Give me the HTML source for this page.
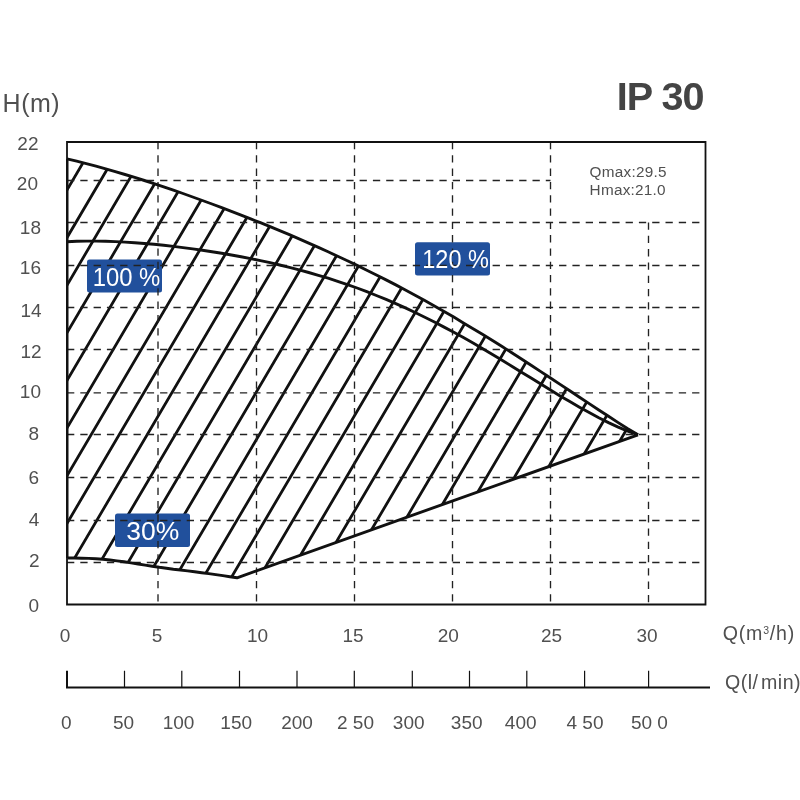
<!DOCTYPE html>
<html lang="en">
<head>
<meta charset="utf-8">
<title>IP 30</title>
<style>
html,body{margin:0;padding:0;background:#fff;}
body{width:800px;height:800px;overflow:hidden;font-family:"Liberation Sans",sans-serif;}
svg{display:block;will-change:transform}
svg text{font-family:"Liberation Sans",sans-serif;fill:#505050;font-size:19px}
.badge text{fill:#fff;font-size:25px}
</style>
</head>
<body>
<svg width="800" height="800" viewBox="0 0 800 800">
<defs><clipPath id="reg"><path d="M67.0,158.9 L76.7,161.2 L86.3,163.6 L96.0,166.1 L105.7,168.8 L115.3,171.6 L125.0,174.5 L134.7,177.4 L144.4,180.5 L154.0,183.7 L163.7,186.9 L173.4,190.2 L183.0,193.5 L192.7,197.0 L202.4,200.5 L212.0,204.0 L221.7,207.6 L231.4,211.3 L241.1,215.1 L250.7,218.9 L260.4,222.7 L270.1,226.7 L279.7,230.7 L289.4,234.7 L299.1,238.9 L308.7,243.1 L318.4,247.4 L328.1,251.8 L337.7,256.3 L347.4,260.8 L357.1,265.4 L366.8,270.2 L376.4,275.0 L386.1,279.9 L395.8,284.9 L405.4,290.0 L415.1,295.3 L424.8,300.6 L434.4,306.0 L444.1,311.5 L453.8,317.1 L463.4,322.9 L473.1,328.7 L482.8,334.6 L492.5,340.6 L502.1,346.6 L511.8,352.8 L521.5,359.0 L531.1,365.3 L540.8,371.6 L550.5,378.0 L560.1,384.4 L569.8,390.8 L579.5,397.2 L589.2,403.6 L598.8,410.0 L608.5,416.3 L618.2,422.6 L627.8,428.7 L638.0,434.8 L237.0,577.8 L229.9,576.7 L222.9,575.6 L215.8,574.6 L208.8,573.6 L201.7,572.7 L194.6,571.8 L187.6,570.9 L180.5,570.0 L173.4,569.2 L166.4,568.2 L159.3,567.3 L152.2,566.2 L145.2,565.1 L138.1,564.0 L131.1,562.9 L124.0,561.8 L116.9,560.9 L109.9,560.0 L102.8,559.3 L95.8,558.8 L88.7,558.4 L81.6,558.2 L74.6,558.0 L67.5,558.0 Z"/></clipPath></defs>
<rect width="800" height="800" fill="#fff"/>
<!-- hatch -->
<g clip-path="url(#reg)"><path d="M-326.1,620 L-37.8,130 M-298.0,620 L-9.8,130 M-270.0,620 L18.2,130 M-242.0,620 L46.2,130 M-214.0,620 L74.3,130 M-186.0,620 L102.3,130 M-157.9,620 L130.3,130 M-129.9,620 L158.3,130 M-101.9,620 L186.3,130 M-73.9,620 L214.4,130 M-45.9,620 L242.4,130 M-17.8,620 L270.4,130 M10.2,620 L298.4,130 M38.2,620 L326.4,130 M66.2,620 L354.5,130 M94.2,620 L382.5,130 M122.3,620 L410.5,130 M150.3,620 L438.5,130 M178.3,620 L466.5,130 M206.3,620 L494.6,130 M234.3,620 L522.6,130 M262.4,620 L550.6,130 M290.4,620 L578.6,130 M318.4,620 L606.6,130 M346.4,620 L634.7,130 M374.4,620 L662.7,130 M402.5,620 L690.7,130 M430.5,620 L718.7,130 M458.5,620 L746.7,130 M486.5,620 L774.8,130 M514.5,620 L802.8,130 M542.6,620 L830.8,130 M570.6,620 L858.8,130 M598.6,620 L886.8,130 M626.6,620 L914.9,130 M654.6,620 L942.9,130 M682.7,620 L970.9,130" stroke="#111" stroke-width="2.8" fill="none"/></g>
<!-- badges -->
<g class="badge">
<rect x="87" y="259.5" width="75" height="33" rx="2.5" fill="#21509c"/>
<rect x="415" y="242.3" width="75" height="33.3" rx="2.5" fill="#21509c"/>
<rect x="115" y="513.5" width="75" height="33.4" rx="2.5" fill="#21509c"/>
</g>
<!-- grid -->
<path d="M158,142 V605 M256.5,142 V605 M354.5,142 V605 M452.5,142 V605 M550.5,142 V605 M648.5,222.5 V605 M67,180.5 H550.5 M67,222.5 H705.5 M67,265.5 H705.5 M67,307.5 H705.5 M67,349.5 H705.5 M67,392.8 H705.5 M67,434.5 H705.5 M67,477.5 H705.5 M67,520.5 H705.5 M67,562.5 H705.5" stroke="#222" stroke-width="1.35" stroke-dasharray="7.3 6" fill="none"/>
<!-- frame -->
<path d="M67,142 H705.5 V604.5 H67 Z" stroke="#111" stroke-width="1.8" fill="none"/>
<!-- curves -->
<g stroke="#111" stroke-width="2.9" fill="none" stroke-linejoin="round">
<path d="M67.0,158.9 L76.7,161.2 L86.3,163.6 L96.0,166.1 L105.7,168.8 L115.3,171.6 L125.0,174.5 L134.7,177.4 L144.4,180.5 L154.0,183.7 L163.7,186.9 L173.4,190.2 L183.0,193.5 L192.7,197.0 L202.4,200.5 L212.0,204.0 L221.7,207.6 L231.4,211.3 L241.1,215.1 L250.7,218.9 L260.4,222.7 L270.1,226.7 L279.7,230.7 L289.4,234.7 L299.1,238.9 L308.7,243.1 L318.4,247.4 L328.1,251.8 L337.7,256.3 L347.4,260.8 L357.1,265.4 L366.8,270.2 L376.4,275.0 L386.1,279.9 L395.8,284.9 L405.4,290.0 L415.1,295.3 L424.8,300.6 L434.4,306.0 L444.1,311.5 L453.8,317.1 L463.4,322.9 L473.1,328.7 L482.8,334.6 L492.5,340.6 L502.1,346.6 L511.8,352.8 L521.5,359.0 L531.1,365.3 L540.8,371.6 L550.5,378.0 L560.1,384.4 L569.8,390.8 L579.5,397.2 L589.2,403.6 L598.8,410.0 L608.5,416.3 L618.2,422.6 L627.8,428.7 L638.0,434.8"/>
<path d="M67.0,241.8 L76.7,241.3 L86.3,241.1 L96.0,241.1 L105.7,241.3 L115.3,241.6 L125.0,242.1 L134.7,242.7 L144.4,243.5 L154.0,244.3 L163.7,245.3 L173.4,246.4 L183.0,247.6 L192.7,248.9 L202.4,250.2 L212.0,251.7 L221.7,253.3 L231.4,255.0 L241.1,256.7 L250.7,258.6 L260.4,260.6 L270.1,262.7 L279.7,265.0 L289.4,267.3 L299.1,269.8 L308.7,272.5 L318.4,275.3 L328.1,278.2 L337.7,281.3 L347.4,284.6 L357.1,288.0 L366.8,291.7 L376.4,295.5 L386.1,299.4 L395.8,303.6 L405.4,307.9 L415.1,312.5 L424.8,317.2 L434.4,322.0 L444.1,327.1 L453.8,332.3 L463.4,337.6 L473.1,343.1 L482.8,348.8 L492.5,354.5 L502.1,360.3 L511.8,366.2 L521.5,372.2 L531.1,378.1 L540.8,384.1 L550.5,390.0 L560.1,395.9 L569.8,401.6 L579.5,407.2 L589.2,412.6 L598.8,417.8 L608.5,422.6 L618.2,427.1 L627.8,431.2 L638.0,434.8"/>
<path d="M67.5,558.0 L74.6,558.0 L81.6,558.2 L88.7,558.4 L95.8,558.8 L102.8,559.3 L109.9,560.0 L116.9,560.9 L124.0,561.8 L131.1,562.9 L138.1,564.0 L145.2,565.1 L152.2,566.2 L159.3,567.3 L166.4,568.2 L173.4,569.2 L180.5,570.0 L187.6,570.9 L194.6,571.8 L201.7,572.7 L208.8,573.6 L215.8,574.6 L222.9,575.6 L229.9,576.7 L237.0,577.8 L638,434.8"/>
<path d="M67.3,159 V558" stroke-width="2.4"/>
</g>
<!-- badge text -->
<g class="badge">
<text transform="translate(126.5,285.5) scale(0.955,1)" text-anchor="middle" style="white-space:pre">100 %</text>
<text transform="translate(455.6,268.2) scale(0.94,1)" text-anchor="middle" style="white-space:pre">120 %</text>
<text transform="translate(152.8,540.2) scale(1.06,1)" text-anchor="middle">30%</text>
</g>
<!-- title -->
<text x="660.2" y="109.8" text-anchor="middle" style="font-size:39.6px;font-weight:bold;fill:#444;letter-spacing:-1px">IP 30</text>
<text x="589.6" y="177.4" style="font-size:15.3px;letter-spacing:0.25px">Qmax:29.5</text>
<text x="589.6" y="195.4" style="font-size:15.3px;letter-spacing:0.25px">Hmax:21.0</text>
<text x="2.6" y="111.5" style="font-size:25px;letter-spacing:0.5px">H(m)</text>
<!-- axis labels -->
<text x="38.5" y="149.6" text-anchor="end">22</text>
<text x="38" y="190.4" text-anchor="end">20</text>
<text x="41" y="234" text-anchor="end">18</text>
<text x="41" y="274" text-anchor="end">16</text>
<text x="41.6" y="317" text-anchor="end">14</text>
<text x="41.6" y="357.6" text-anchor="end">12</text>
<text x="41" y="398" text-anchor="end">10</text>
<text x="39" y="439.6" text-anchor="end">8</text>
<text x="39" y="484.4" text-anchor="end">6</text>
<text x="39.4" y="526.4" text-anchor="end">4</text>
<text x="39.6" y="566.6" text-anchor="end">2</text>
<text x="39" y="612" text-anchor="end">0</text>
<text x="65" y="642" text-anchor="middle">0</text>
<text x="157" y="642" text-anchor="middle">5</text>
<text x="257.5" y="642" text-anchor="middle">10</text>
<text x="353" y="642" text-anchor="middle">15</text>
<text x="448.3" y="642" text-anchor="middle">20</text>
<text x="551.5" y="642" text-anchor="middle">25</text>
<text x="647" y="642" text-anchor="middle">30</text>
<text x="66.2" y="728.8" text-anchor="middle" style="white-space:pre">0</text>
<text x="123.6" y="728.8" text-anchor="middle" style="white-space:pre">50</text>
<text x="178.6" y="728.8" text-anchor="middle" style="white-space:pre">100</text>
<text x="236.2" y="728.8" text-anchor="middle" style="white-space:pre">150</text>
<text x="297" y="728.8" text-anchor="middle" style="white-space:pre">200</text>
<text x="355.5" y="728.8" text-anchor="middle" style="white-space:pre">2 50</text>
<text x="408.7" y="728.8" text-anchor="middle" style="white-space:pre">300</text>
<text x="466.7" y="728.8" text-anchor="middle" style="white-space:pre">350</text>
<text x="520.7" y="728.8" text-anchor="middle" style="white-space:pre">400</text>
<text x="585" y="728.8" text-anchor="middle" style="white-space:pre">4 50</text>
<text x="649.4" y="728.8" text-anchor="middle" style="white-space:pre">50 0</text>
<text x="722.7" y="639.7" style="font-size:19.6px;letter-spacing:0.8px">Q(m<tspan dy="-6.2" style="font-size:10.5px">3</tspan><tspan dy="6.2">/h)</tspan></text>
<text x="725" y="689.1" style="font-size:19.6px;white-space:pre;letter-spacing:0.45px;word-spacing:-3.2px">Q(l/ min)</text>
<!-- second axis -->
<path d="M67,670.7 V688.4 M66,687.5 H710" stroke="#111" stroke-width="2" fill="none"/>
<path d="M124.5,670.7 V687.5 M181.8,670.7 V687.5 M239.5,670.7 V687.5 M297,670.7 V687.5 M354.3,670.7 V687.5 M412.3,670.7 V687.5 M469.5,670.7 V687.5 M526.8,670.7 V687.5 M584.6,670.7 V687.5 M648.6,670.7 V687.5" stroke="#111" stroke-width="1.2" fill="none"/>
</svg>
</body>
</html>
